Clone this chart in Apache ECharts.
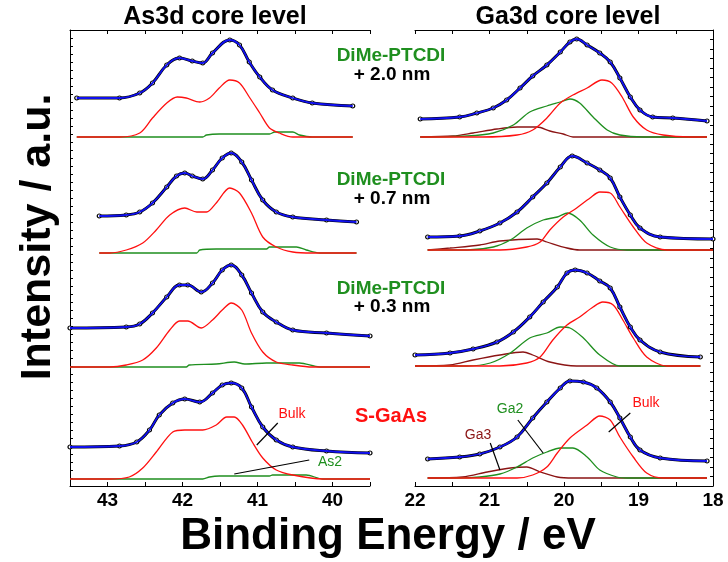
<!DOCTYPE html>
<html>
<head>
<meta charset="utf-8">
<script src="https://cdn.jsdelivr.net/npm/echarts@6/dist/echarts.min.js"></script>
<style>
  html, body { margin: 0; padding: 0; background: #fff; }
  #chart { width: 728px; height: 562px; }
</style>
</head>
<body>
<div id="chart"></div>
<script>
// [binding energy / eV, intensity / a.u. (stack offset included)]
// As3d, DiMe-PTCDI + 2.0 nm
const as20Data = [[43.41,388],[42.84,388],[42.57,393],[42.40,403],[42.21,421],[42.04,428],[41.87,425],[41.73,423],[41.60,433],[41.37,446],[41.24,441],[41.11,424],[40.97,409],[40.80,396],[40.53,388],[40.27,383],[39.73,380]];
const as20Bulk = [[43.41,349],[42.84,349],[42.57,353],[42.40,368],[42.21,383],[42.07,389],[41.95,388],[41.77,384],[41.64,388],[41.51,398],[41.37,406],[41.24,403],[41.11,389],[40.97,373],[40.84,358],[40.71,353],[40.53,349],[39.73,349]];
const as20As2 = [[43.41,349],[41.73,349],[41.68,351],[41.51,352],[40.84,352],[40.77,354],[40.53,354],[40.44,351],[40.27,349],[39.73,349]];
// As3d, + 0.7 nm
const as07Data = [[43.11,270],[42.75,271],[42.57,274],[42.40,283],[42.21,299],[42.08,310],[41.97,313],[41.87,310],[41.73,307],[41.60,316],[41.47,328],[41.35,333],[41.21,324],[41.08,306],[40.93,286],[40.75,274],[40.53,269],[40.08,266],[39.68,264]];
const as07Bulk = [[43.11,233],[42.97,233],[42.75,236],[42.53,243],[42.35,256],[42.17,271],[41.97,278],[41.81,274],[41.68,274],[41.55,283],[41.37,298],[41.24,293],[41.08,273],[40.93,249],[40.75,239],[40.53,234],[40.27,233],[39.68,233]];
const as07As2 = [[43.11,233],[41.81,233],[41.77,236],[41.55,237],[40.88,237],[40.84,239],[40.48,239],[40.35,236],[40.17,233],[39.68,233]];
// As3d, + 0.3 nm
const as03Data = [[43.5,158],[42.75,159],[42.57,162],[42.40,173],[42.21,189],[42.04,201],[41.93,201],[41.75,194],[41.60,203],[41.47,216],[41.35,221],[41.21,211],[41.08,193],[40.93,174],[40.75,164],[40.53,156],[40.08,153],[39.5,150]];
const as03Bulk = [[43.5,119],[42.97,119],[42.75,121],[42.53,126],[42.35,138],[42.17,156],[42.04,165],[41.93,165],[41.75,158],[41.60,166],[41.47,176],[41.35,183],[41.21,176],[41.08,153],[40.93,134],[40.75,124],[40.53,121],[40.27,119],[39.5,119]];
const as03As2 = [[43.5,119],[41.95,119],[41.91,121],[41.55,122],[41.31,124],[41.17,122],[40.88,123],[40.44,123],[40.17,119],[39.5,119]];
// As3d, S-GaAs
const asSData = [[43.5,39],[42.84,40],[42.61,44],[42.44,56],[42.31,71],[42.13,83],[41.97,87],[41.77,84],[41.60,93],[41.47,101],[41.35,103],[41.21,98],[41.08,79],[40.93,59],[40.75,46],[40.53,39],[40.08,35],[39.5,33]];
const asSBulk = [[43.5,7],[42.97,7],[42.71,9],[42.53,18],[42.35,34],[42.13,54],[41.97,56],[41.73,56],[41.55,61],[41.41,69],[41.31,69],[41.20,61],[41.07,44],[40.93,28],[40.75,16],[40.53,11],[40.13,7],[39.5,7]];
const asSAs2 = [[43.5,7],[41.73,7],[41.64,9],[41.51,10],[40.84,10],[40.80,11],[40.35,11],[40.13,7],[39.5,7]];

// Ga3d, + 2.0 nm
const ga20Data = [[21.93,367],[21.40,369],[21.17,373],[20.95,378],[20.77,386],[20.59,398],[20.42,410],[20.23,421],[20.05,434],[19.92,444],[19.83,447],[19.69,441],[19.52,433],[19.38,424],[19.25,408],[19.11,389],[18.98,376],[18.81,369],[18.54,368],[18.08,365]];
const ga20Bulk = [[21.93,349],[21.09,349],[20.63,351],[20.42,356],[20.23,368],[20.05,383],[19.88,391],[19.69,398],[19.49,406],[19.36,403],[19.22,389],[19.07,369],[18.89,356],[18.67,351],[18.31,349],[18.08,349]];
const ga20Ga2 = [[21.93,349],[21.30,350],[20.95,353],[20.68,361],[20.46,374],[20.23,380],[20.05,384],[19.92,387],[19.79,383],[19.61,369],[19.42,356],[19.25,351],[18.94,349],[18.08,349]];
const ga20Ga3 = [[21.93,349],[21.49,350],[21.22,353],[20.90,357],[20.63,359],[20.36,359],[20.19,355],[20.01,352],[19.88,349],[18.08,349]];
// Ga3d, + 0.7 nm
const ga07Data = [[21.83,249],[21.40,250],[21.13,255],[20.86,263],[20.63,274],[20.42,289],[20.23,303],[20.05,319],[19.89,330],[19.69,323],[19.52,316],[19.38,308],[19.25,289],[19.11,271],[18.98,258],[18.71,249],[18.0,247]];
const ga07Bulk = [[21.83,236],[20.86,236],[20.50,239],[20.32,244],[20.19,256],[20.01,269],[19.83,278],[19.65,288],[19.52,294],[19.38,293],[19.25,279],[19.07,259],[18.89,243],[18.62,236],[18.0,236]];
const ga07Ga2 = [[21.83,236],[21.30,236],[20.95,239],[20.72,246],[20.50,258],[20.28,266],[20.09,269],[19.95,273],[19.79,266],[19.61,251],[19.38,239],[19.15,236],[18.0,236]];
const ga07Ga3 = [[21.83,236],[21.53,238],[21.13,241],[20.86,245],[20.36,247],[20.23,244],[19.96,238],[19.79,236],[18.0,236]];
// Ga3d, + 0.3 nm
const ga03Data = [[22.0,131],[21.53,133],[21.22,137],[20.90,144],[20.68,154],[20.46,169],[20.28,184],[20.09,199],[19.96,213],[19.85,216],[19.69,213],[19.52,205],[19.38,198],[19.25,179],[19.11,159],[18.98,146],[18.71,134],[18.17,129]];
const ga03Bulk = [[22.0,120],[20.86,120],[20.50,123],[20.32,129],[20.15,146],[19.96,161],[19.79,169],[19.61,179],[19.48,184],[19.34,181],[19.21,166],[19.07,148],[18.89,129],[18.62,120],[18.17,120]];
const ga03Ga2 = [[22.0,120],[21.30,120],[20.99,123],[20.72,133],[20.46,148],[20.23,153],[20.05,159],[19.92,158],[19.74,148],[19.52,131],[19.25,120],[18.17,120]];
const ga03Ga3 = [[22.0,120],[21.53,121],[21.22,126],[20.86,131],[20.55,134],[20.42,131],[20.19,124],[19.83,120],[18.17,120]];
// Ga3d, S-GaAs
const gaSData = [[21.83,27],[21.40,29],[21.13,32],[20.86,39],[20.63,49],[20.42,68],[20.23,84],[20.05,98],[19.92,105],[19.74,104],[19.56,98],[19.38,84],[19.25,68],[19.11,49],[18.98,36],[18.71,28],[18.08,25]];
const gaSBulk = [[21.83,8],[20.63,8],[20.42,11],[20.23,19],[20.09,33],[19.92,48],[19.69,61],[19.52,70],[19.38,66],[19.25,49],[19.07,29],[18.89,13],[18.67,8],[18.08,8]];
const gaSGa2 = [[21.83,8],[21.40,8],[21.13,9],[20.86,12],[20.63,19],[20.42,28],[20.23,34],[20.05,38],[19.88,38],[19.69,29],[19.52,16],[19.29,9],[19.15,8],[18.08,8]];
const gaSGa3 = [[21.83,8],[21.36,9],[21.03,14],[20.72,18],[20.50,19],[20.32,14],[20.09,9],[19.88,8],[18.08,8]];

const asTicks = [43, 42, 41, 40];
const gaTicks = [22, 21, 20, 19, 18];
// label pointer segments (energy, intensity)
const asPointers = [[[41.01,41],[40.73,63]], [[41.31,12],[40.31,26]]];
const gaPointers = [[[19.40,54],[19.11,73]], [[20.62,66],[20.28,33]], [[20.99,43],[20.86,16]]];

const FONT = '"Liberation Sans", Arial, sans-serif';
const RED = '#ff1010', GREEN = '#1f8f1f', DARKRED = '#8b1414', BLUE = '#1010f0';

function xAxis(grid, min, max, ticks, pos) {
  return {
    type: 'value', gridIndex: grid, min: min, max: max, interval: 0.5, inverse: true, position: pos,
    axisLine: {show: true, onZero: false, lineStyle: {color: '#000', width: 1}},
    axisTick: {show: true, inside: true, length: 4, lineStyle: {color: '#000'}},
    axisLabel: {
      show: pos === 'bottom', margin: 5, color: '#000', fontSize: 19, fontWeight: 'bold', fontFamily: FONT,
      formatter: v => ticks.includes(v) ? String(v) : ''
    },
    splitLine: {show: false}
  };
}
function yAxis(grid, pos, step) {
  return {
    type: 'value', gridIndex: grid, min: 0, max: 456, interval: step, position: pos,
    axisLine: {show: true, lineStyle: {color: '#000', width: 1}},
    axisTick: {show: true, inside: true, length: 3, lineStyle: {color: '#000'}},
    axisLabel: {show: false},
    splitLine: {show: false}
  };
}
function comp(data, color, xi, yi) {
  return {
    type: 'line', data: data, xAxisIndex: xi, yAxisIndex: yi, smooth: 0.3,
    showSymbol: false, lineStyle: {color: color, width: 1.3}, z: 2
  };
}
function measured(data, xi, yi) {
  return [{
    type: 'line', data: data, xAxisIndex: xi, yAxisIndex: yi, smooth: 0.4,
    symbol: 'circle', symbolSize: 4, showSymbol: true,
    itemStyle: {color: '#fff', borderColor: '#000', borderWidth: 1.2},
    lineStyle: {color: '#000', width: 3}, z: 3
  }, {
    type: 'line', data: data, xAxisIndex: xi, yAxisIndex: yi, smooth: 0.4,
    showSymbol: false, lineStyle: {color: BLUE, width: 1.8}, z: 4
  }];
}
function pointers(segs, xi, yi) {
  return {
    type: 'line', data: [], xAxisIndex: xi, yAxisIndex: yi, z: 5,
    markLine: {
      silent: true, symbol: 'none', animation: false,
      label: {show: false},
      lineStyle: {color: '#000', width: 1.2, type: 'solid'},
      data: segs.map(s => [{coord: s[0]}, {coord: s[1]}])
    }
  };
}
function txt(x, y, text, size, color, bold, rot) {
  return {
    type: 'text', x: x, y: y, rotation: rot || 0,
    style: {
      text: text, fill: color, font: (bold ? 'bold ' : '') + size + 'px ' + FONT,
      textAlign: 'center', textVerticalAlign: 'middle', align: 'center', verticalAlign: 'middle'
    }
  };
}

const asSets = [[as20Data, as20Bulk, as20As2], [as07Data, as07Bulk, as07As2], [as03Data, as03Bulk, as03As2], [asSData, asSBulk, asSAs2]];
const gaSets = [[ga20Data, ga20Bulk, ga20Ga2, ga20Ga3], [ga07Data, ga07Bulk, ga07Ga2, ga07Ga3], [ga03Data, ga03Bulk, ga03Ga2, ga03Ga3], [gaSData, gaSBulk, gaSGa2, gaSGa3]];

const series = [];
asSets.forEach(s => {
  series.push(comp(s[2], GREEN, 0, 0), comp(s[1], RED, 0, 0));
  series.push(...measured(s[0], 0, 0));
});
gaSets.forEach(s => {
  series.push(comp(s[3], DARKRED, 2, 1), comp(s[2], GREEN, 2, 1), comp(s[1], RED, 2, 1));
  series.push(...measured(s[0], 2, 1));
});
series.push(pointers(asPointers, 0, 0), pointers(gaPointers, 2, 1));

const chart = echarts.init(document.getElementById('chart'));
chart.setOption({
  animation: false,
  backgroundColor: '#fff',
  grid: [
    {left: 70, right: 358, top: 30, bottom: 76},
    {left: 415, right: 15, top: 30, bottom: 76}
  ],
  xAxis: [
    xAxis(0, 39.5, 43.5, asTicks, 'bottom'),
    xAxis(0, 39.5, 43.5, asTicks, 'top'),
    xAxis(1, 18, 22, gaTicks, 'bottom'),
    xAxis(1, 18, 22, gaTicks, 'top')
  ],
  yAxis: [yAxis(0, 'left', 8), yAxis(1, 'right', 9.5)],
  series: series,
  graphic: [
    txt(215, 17, 'As3d core level', 25, '#000', true),
    txt(568, 17, 'Ga3d core level', 25, '#000', true),
    txt(38, 237, 'Intensity / a.u.', 43, '#000', true, Math.PI / 2),
    txt(388, 537, 'Binding Energy / eV', 44, '#000', true),
    txt(391, 56, 'DiMe-PTCDI', 19, GREEN, true),
    txt(392, 75, '+ 2.0 nm', 19, '#000', true),
    txt(391, 180, 'DiMe-PTCDI', 19, GREEN, true),
    txt(392, 199, '+ 0.7 nm', 19, '#000', true),
    txt(391, 289, 'DiMe-PTCDI', 19, GREEN, true),
    txt(392, 307, '+ 0.3 nm', 19, '#000', true),
    txt(391, 416, 'S-GaAs', 20, RED, true),
    txt(292, 414, 'Bulk', 14, RED, false),
    txt(330, 462, 'As2', 14, GREEN, false),
    txt(646, 403, 'Bulk', 14, RED, false),
    txt(510, 409, 'Ga2', 14, GREEN, false),
    txt(478, 435, 'Ga3', 14, DARKRED, false)
  ]
});
</script>
</body>
</html>
